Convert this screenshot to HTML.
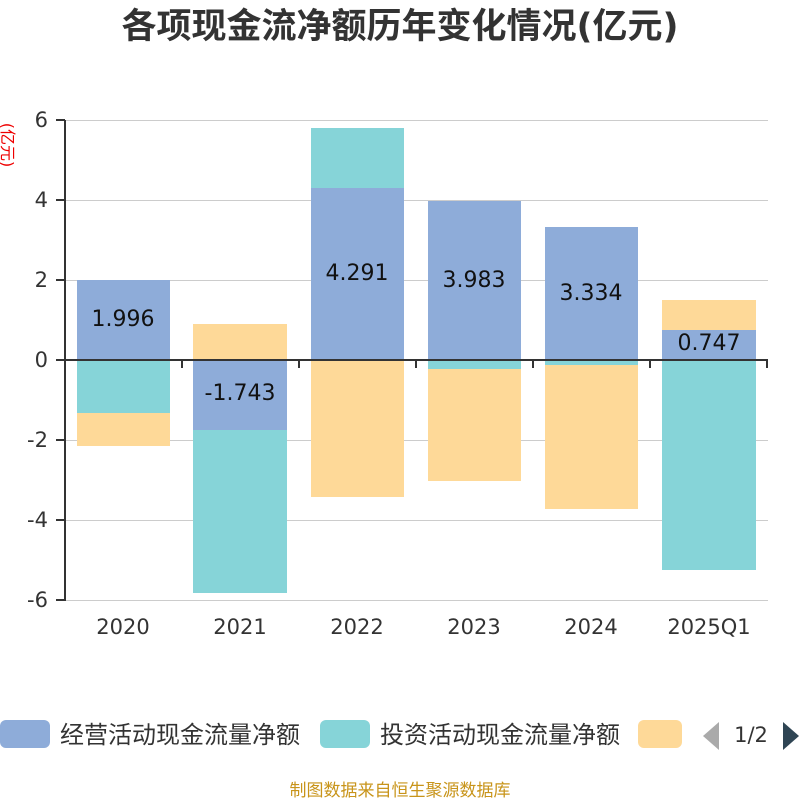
<!DOCTYPE html><html><head><meta charset="utf-8"><style>body{margin:0;background:#fff}svg{display:block}text{font-family:"DejaVu Sans","Noto Sans CJK SC",sans-serif}</style></head><body>
<svg width="800" height="800" xmlns="http://www.w3.org/2000/svg">
<text x="400" y="38" text-anchor="middle" font-size="35" font-weight="bold" fill="#333" font-family="Liberation Sans,Noto Sans CJK SC,sans-serif">各项现金流净额历年变化情况(亿元)</text>
<text transform="translate(2,145) rotate(90)" text-anchor="middle" font-size="16" fill="#e00">(亿元)</text>
<g stroke="#ccc" stroke-width="1">
<line x1="65" y1="120.5" x2="768" y2="120.5"/><line x1="65" y1="200.5" x2="768" y2="200.5"/><line x1="65" y1="280.5" x2="768" y2="280.5"/><line x1="65" y1="440.5" x2="768" y2="440.5"/><line x1="65" y1="520.5" x2="768" y2="520.5"/><line x1="65" y1="600.5" x2="768" y2="600.5"/>
</g>
<g font-size="21" fill="#333" text-anchor="end">
<text x="48" y="127">6</text><text x="48" y="207">4</text><text x="48" y="287">2</text><text x="48" y="367">0</text><text x="48" y="447">-2</text><text x="48" y="527">-4</text><text x="48" y="607">-6</text>
</g>
<g>
<rect x="77" y="280" width="93" height="80" fill="#8eacd9"/>
<rect x="77" y="360" width="93" height="53" fill="#86d4d8"/>
<rect x="77" y="413" width="93" height="33" fill="#fed998"/>
<rect x="193" y="324" width="94" height="36" fill="#fed998"/>
<rect x="193" y="360" width="94" height="70" fill="#8eacd9"/>
<rect x="193" y="430" width="94" height="163" fill="#86d4d8"/>
<rect x="311" y="128" width="93" height="60" fill="#86d4d8"/>
<rect x="311" y="188" width="93" height="172" fill="#8eacd9"/>
<rect x="311" y="360" width="93" height="137" fill="#fed998"/>
<rect x="428" y="201" width="93" height="159" fill="#8eacd9"/>
<rect x="428" y="360" width="93" height="9" fill="#86d4d8"/>
<rect x="428" y="369" width="93" height="112" fill="#fed998"/>
<rect x="545" y="227" width="93" height="133" fill="#8eacd9"/>
<rect x="545" y="360" width="93" height="5" fill="#86d4d8"/>
<rect x="545" y="365" width="93" height="144" fill="#fed998"/>
<rect x="662" y="300" width="94" height="30" fill="#fed998"/>
<rect x="662" y="330" width="94" height="30" fill="#8eacd9"/>
<rect x="662" y="360" width="94" height="210" fill="#86d4d8"/>
</g>
<g stroke="#333" stroke-width="2">
<line x1="65" y1="120" x2="65" y2="601"/>
<line x1="56" y1="120" x2="65" y2="120"/><line x1="56" y1="200" x2="65" y2="200"/><line x1="56" y1="280" x2="65" y2="280"/><line x1="56" y1="360" x2="65" y2="360"/><line x1="56" y1="440" x2="65" y2="440"/><line x1="56" y1="520" x2="65" y2="520"/><line x1="56" y1="600" x2="65" y2="600"/>
<line x1="65" y1="360" x2="768" y2="360"/>
<line x1="182" y1="360" x2="182" y2="368"/><line x1="299" y1="360" x2="299" y2="368"/><line x1="416" y1="360" x2="416" y2="368"/><line x1="533" y1="360" x2="533" y2="368"/><line x1="650" y1="360" x2="650" y2="368"/><line x1="767" y1="360" x2="767" y2="368"/>
</g>
<g font-size="22" fill="#111" text-anchor="middle">
<text x="123" y="326">1.996</text><text x="240" y="400">-1.743</text><text x="357" y="280">4.291</text><text x="474" y="287">3.983</text><text x="591" y="300">3.334</text><text x="709" y="350">0.747</text>
</g>
<g font-size="21" fill="#333" text-anchor="middle">
<text x="123" y="634">2020</text><text x="240" y="634">2021</text><text x="357" y="634">2022</text><text x="474" y="634">2023</text><text x="591" y="634">2024</text><text x="709" y="634">2025Q1</text>
</g>
<rect x="0" y="720" width="50" height="28" rx="6" fill="#8eacd9"/>
<text x="60" y="743" font-size="24" fill="#333">经营活动现金流量净额</text>
<rect x="320" y="720" width="50" height="28" rx="6" fill="#86d4d8"/>
<text x="380" y="743" font-size="24" fill="#333">投资活动现金流量净额</text>
<rect x="638" y="720" width="44" height="28" rx="6" fill="#fed998"/>
<polygon points="719,722 719,750 703,736" fill="#aaa"/>
<text x="751" y="742" font-size="21" fill="#333" text-anchor="middle">1/2</text>
<polygon points="783,722 783,750 799,736" fill="#2f4554"/>
<text x="400" y="796" font-size="17" fill="#c8941a" text-anchor="middle">制图数据来自恒生聚源数据库</text>
</svg></body></html>
